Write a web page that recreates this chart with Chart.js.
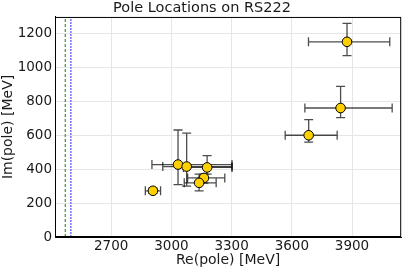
<!DOCTYPE html>
<html>
<head>
<meta charset="utf-8">
<script src="https://cdn.jsdelivr.net/npm/chart.js@4/dist/chart.umd.min.js"></script>
<style>
  html, body { margin: 0; padding: 0; background: #fff; }
  #wrap { width: 407px; height: 271px; }
</style>
</head>
<body>
<div id="wrap"><canvas id="poles" width="407" height="271"></canvas></div>
<script>
// pole positions (MeV)
const reVals = [3875, 3843, 3684, 3033, 3076, 3178, 3162, 3138, 2908];
const imVals = [1153, 762, 601, 428, 416, 411, 349, 320, 273];
// asymmetric error bars: [low, high] bounds
const reLow  = [3683, 3665, 3567, 2903, 2957, 3060, 3081, 3064, 2870];
const reHigh = [4088, 4100, 3826, 3302, 3302, 3302, 3266, 3223, 2946];
const imLow  = [1072, 705, 560, 310, 300, 372, 318, 273, 258];
const imHigh = [1262, 890, 693, 632, 614, 481, 372, 372, 290];
// thresholds drawn as vertical lines
const thrGreen = 2471;
const thrBlue = 2499;
const xTicks = [2700, 3000, 3300, 3600, 3900];
const yTicks = [0, 200, 400, 600, 800, 1000, 1200];

const FONT = 'DejaVu Sans';
const TXT = '#1a1a1a';

// ─── error bars + frame ─────────────────────────────────────────────────────
const errorBars = {
  id: 'errorBars',
  beforeDatasetsDraw(chart) {
    const { ctx, scales: { x, y } } = chart;
    const cap = 4.5;
    ctx.save();
    ctx.strokeStyle = 'rgba(0,0,0,0.7)';
    ctx.lineWidth = 1.3;
    reVals.forEach((r, i) => {
      const px = x.getPixelForValue(r), py = y.getPixelForValue(imVals[i]);
      const x0 = x.getPixelForValue(reLow[i]), x1 = x.getPixelForValue(reHigh[i]);
      const y0 = y.getPixelForValue(imLow[i]), y1 = y.getPixelForValue(imHigh[i]);
      ctx.beginPath();
      ctx.moveTo(x0, py); ctx.lineTo(x1, py);
      ctx.moveTo(x0, py - cap); ctx.lineTo(x0, py + cap);
      ctx.moveTo(x1, py - cap); ctx.lineTo(x1, py + cap);
      ctx.moveTo(px, y0); ctx.lineTo(px, y1);
      ctx.moveTo(px - cap, y0); ctx.lineTo(px + cap, y0);
      ctx.moveTo(px - cap, y1); ctx.lineTo(px + cap, y1);
      ctx.stroke();
    });
    ctx.restore();
  },
  afterDraw(chart) {
    const { ctx, chartArea: a } = chart;
    ctx.save();
    ctx.strokeStyle = '#000';
    ctx.lineWidth = 1;
    ctx.strokeRect(a.left + 0.5, a.top + 0.5, a.right - a.left - 1, a.bottom - a.top - 1);
    ctx.restore();
  }
};

function vline(v, color, dash, width) {
  return {
    type: 'line',
    data: [{ x: v, y: 0 }, { x: v, y: 1300 }],
    borderColor: color, borderDash: dash, borderWidth: width,
    pointRadius: 0, fill: false, order: 2
  };
}

const plain = v => String(v);

new Chart(document.getElementById('poles'), {
  type: 'scatter',
  data: {
    datasets: [
      vline(thrGreen, '#1a7a1a', [3, 2], 1),
      vline(thrBlue, '#7a7aff', [2, 1], 1.6),
      {
        data: reVals.map((r, i) => ({ x: r, y: imVals[i] })),
        pointBackgroundColor: '#FFD000',
        pointBorderColor: '#000',
        pointBorderWidth: 1,
        pointRadius: 4.8,
        order: 1
      }
    ]
  },
  plugins: [errorBars],
  options: {
    responsive: false,
    animation: false,
    layout: { padding: { left: 0, right: 3, top: 0, bottom: 0 } },
    plugins: {
      legend: { display: false },
      tooltip: { enabled: false },
      title: {
        display: true,
        text: 'Pole Locations on RS222',
        color: TXT,
        font: { family: FONT, size: 14.5, weight: 'normal', lineHeight: 1.1 },
        padding: { top: 0, bottom: 1 }
      }
    },
    scales: {
      x: {
        type: 'linear', min: 2420, max: 4145,
        afterBuildTicks: s => { s.ticks = xTicks.map(v => ({ value: v })); },
        afterFit: s => { s.height = 34; },
        ticks: { color: TXT, font: { family: FONT, size: 13.5 }, padding: 1, maxRotation: 0, callback: plain },
        grid: { color: '#e6e6e6', drawTicks: false },
        border: { color: '#000' },
        title: {
          display: true, text: 'Re(pole) [MeV]', color: TXT,
          font: { family: FONT, size: 14 }, padding: { top: 0, bottom: 2 }
        }
      },
      y: {
        type: 'linear', min: 0, max: 1300,
        afterBuildTicks: s => { s.ticks = yTicks.map(v => ({ value: v })); },
        afterFit: s => { s.width = 55; },
        ticks: { color: TXT, font: { family: FONT, size: 13.5 }, padding: 3, callback: plain },
        grid: { color: '#e6e6e6', drawTicks: false },
        border: { color: '#000' },
        title: {
          display: true, text: 'Im(pole) [MeV]', color: TXT,
          font: { family: FONT, size: 14 }, padding: { top: 0, bottom: 0 }
        }
      }
    }
  }
});
</script>
</body>
</html>
